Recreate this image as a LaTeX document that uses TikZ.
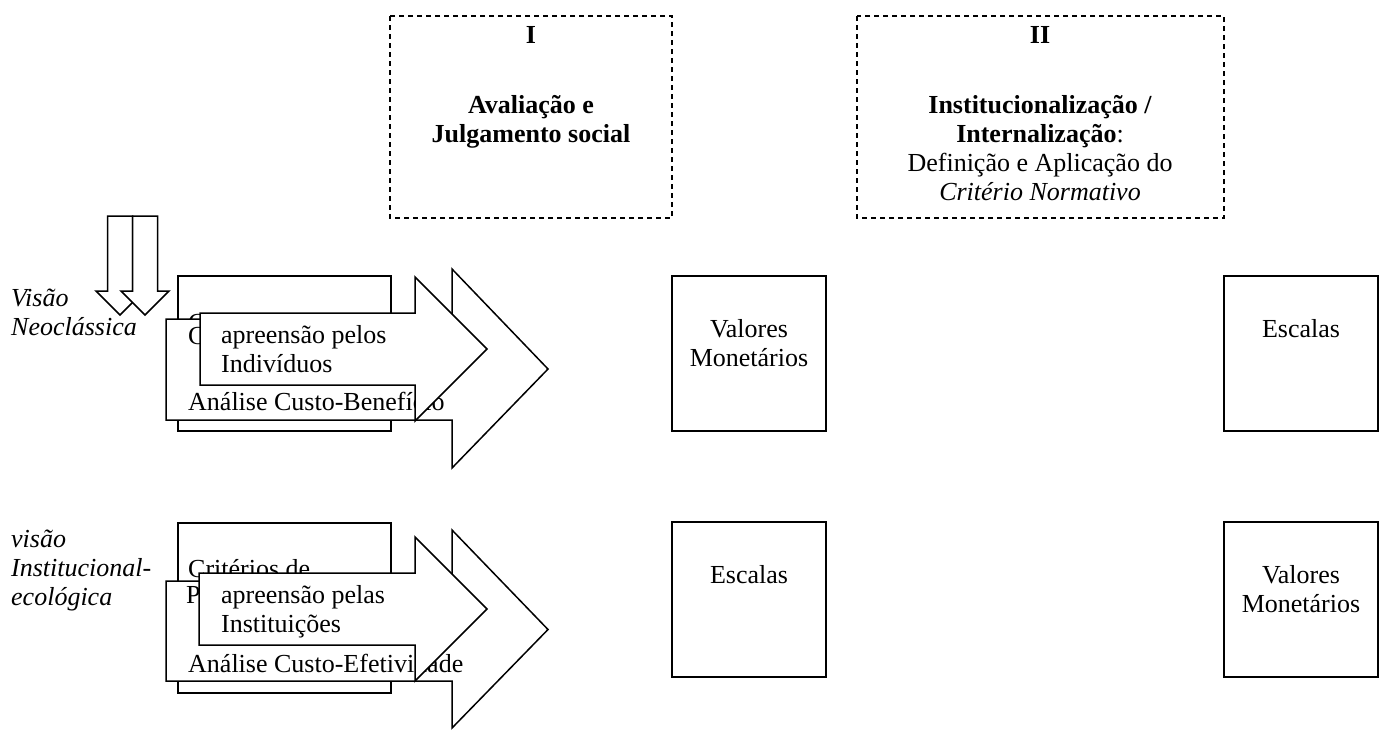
\documentclass[tikz,border=0pt]{standalone}
\usepackage{fontspec}
\setmainfont{Liberation Serif}
\begin{document}
\begin{tikzpicture}[x=1pt,y=-1pt,
  blk/.style={draw=black,line width=1.5pt,fill=white,line join=miter},
  sqbox/.style={draw=black,line width=2pt,fill=white},
  dbox/.style={draw=black,line width=2pt,dash pattern=on 5pt off 4pt},
  lt/.style={inner sep=0pt,anchor=base west,font=\fontsize{26}{30}\selectfont},
  ct/.style={inner sep=0pt,anchor=base,font=\fontsize{26}{30}\selectfont},
  it/.style={lt,font=\fontsize{26}{30}\selectfont\itshape}]
\useasboundingbox (0,0) rectangle (1383,729);

% dashed header boxes
\draw[dbox] (390,16) rectangle (672,218);
\node[ct,font=\fontsize{26}{30}\selectfont\bfseries] (h1) at (531,43) {I};
\node[ct,font=\fontsize{26}{30}\selectfont\bfseries] (h1a) at (531,113) {Avaliação e};
\node[ct,font=\fontsize{26}{30}\selectfont\bfseries] (h1b) at (531,142) {Julgamento social};

\draw[dbox] (857,16) rectangle (1224,218);
\node[ct,font=\fontsize{26}{30}\selectfont\bfseries] (h2) at (1040,43) {II};
\node[ct,font=\fontsize{26}{30}\selectfont\bfseries] (h2a) at (1040,113) {Institucionalização /};
\node[ct] (h2b) at (1040,142) {\textbf{Internalização}:};
\node[ct] (h2c) at (1040,171) {Definição e Aplicação do};
\node[ct] (h2d) at (1040,200) {\itshape Critério Normativo};

% down arrows
\draw[blk] (107.5,216) -- (132.5,216) -- (132.5,291) -- (144,291) -- (120,315) -- (96,291) -- (107.5,291) -- cycle;
\draw[blk] (132.5,216) -- (157.5,216) -- (157.5,291) -- (169,291) -- (145,315) -- (121,291) -- (132.5,291) -- cycle;

% row labels
\node[it] (v1a) at (11,306) {Visão};
\node[it] (v1b) at (11,335) {Neoclássica};
\node[it] (v2a) at (11,547) {visão};
\node[it] (v2b) at (11,576) {Institucional-};
\node[it] (v2c) at (11,605) {ecológica};

% row 1 left group
\draw[sqbox,line width=1.5pt] (178,276) rectangle (391,431);
\node[lt] (b1t) at (188,331) {C};
\draw[blk] (166,319) -- (452,319) -- (452,269) -- (548,369) -- (452,468) -- (452,420) -- (166,420) -- cycle;
\node[lt] (g1a) at (188,344) {C};
\node[lt] (g1b) at (188,410) {Análise Custo-Benefício};
\draw[blk] (200,313) -- (415,313) -- (415,277) -- (487,349) -- (415,421) -- (415,385) -- (200,385) -- cycle;
\node[lt] (f1a) at (221,343) {apreensão pelos};
\node[lt] (f1b) at (221,372) {Indivíduos};

% row 2 left group
\draw[sqbox,line width=1.5pt] (178,523) rectangle (391,693);
\node[lt] (b2t) at (188,577) {Critérios de};
\draw[blk] (166,581) -- (452,581) -- (452,530) -- (548,629.5) -- (452,728) -- (452,681) -- (166,681) -- cycle;
\node[lt] (g2a) at (186,603) {P};
\node[lt] (g2b) at (188,672) {Análise Custo-Efetividade};
\draw[blk] (199,573) -- (415,573) -- (415,537) -- (487,609) -- (415,681) -- (415,645) -- (199,645) -- cycle;
\node[lt] (f2a) at (221,603) {apreensão pelas};
\node[lt] (f2b) at (221,632) {Instituições};

% right boxes
\draw[sqbox] (672,276) rectangle (826,431);
\node[ct] (r1a) at (749,337) {Valores};
\node[ct] (r1b) at (749,366) {Monetários};
\draw[sqbox] (1224,276) rectangle (1378,431);
\node[ct] (r1c) at (1301,337) {Escalas};
\draw[sqbox] (672,522) rectangle (826,677);
\node[ct] (r2a) at (749,583) {Escalas};
\draw[sqbox] (1224,522) rectangle (1378,677);
\node[ct] (r2b) at (1301,583) {Valores};
\node[ct] (r2c) at (1301,612) {Monetários};
\end{tikzpicture}
\end{document}
